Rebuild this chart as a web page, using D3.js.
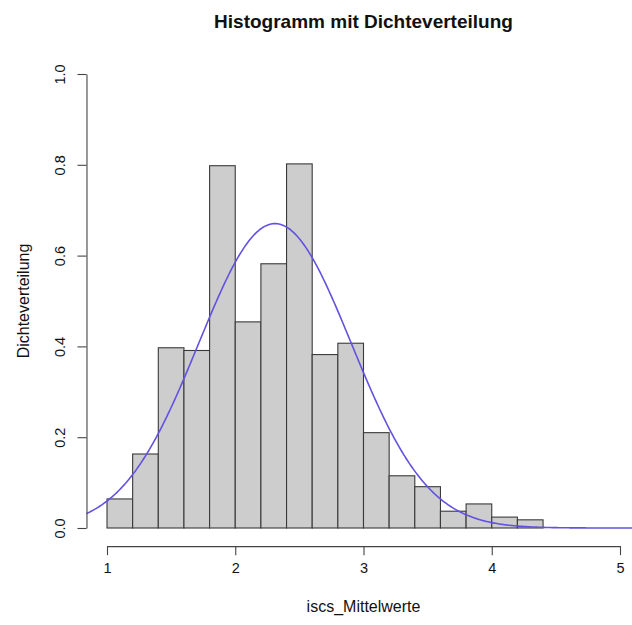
<!DOCTYPE html>
<html>
<head>
<meta charset="utf-8">
<script src="https://cdn.jsdelivr.net/npm/d3@7"></script>
<style>
  html, body { margin: 0; padding: 0; background: #fff; }
  svg { display: block; font-family: "Liberation Sans", Arial, Helvetica, sans-serif; }
</style>
</head>
<body>
<svg id="chart" width="632" height="625"></svg>
<script>
// Histogram bins (lower edges, width 0.2) and their densities
const binStarts = [1.0, 1.2, 1.4, 1.6, 1.8, 2.0, 2.2, 2.4, 2.6, 2.8, 3.0, 3.2, 3.4, 3.6, 3.8, 4.0, 4.2];
const binWidth = 0.2;
const densities = [0.064, 0.163, 0.397, 0.391, 0.798, 0.454, 0.582, 0.802, 0.382, 0.407, 0.210, 0.115, 0.091, 0.037, 0.053, 0.024, 0.018];

// Fitted normal density parameters
const fitMean = 2.31;
const fitSd = 0.595;

const xTicks = [1, 2, 3, 4, 5];
const yTicks = [0.0, 0.2, 0.4, 0.6, 0.8, 1.0];

const titleText = "Histogramm mit Dichteverteilung";
const xTitle = "iscs_Mittelwerte";
const yTitle = "Dichteverteilung";

const svg = d3.select("#chart");
const W = 632, H = 625;

// Plot region (data range padded by 4% like base graphics)
const x = d3.scaleLinear().domain([1, 5]).range([107, 620]);
const y = d3.scaleLinear().domain([0, 1]).range([528, 74]);
const plotL = x(0.84), plotR = x(5.16), plotB = y(-0.04), plotT = y(1.04);
const midX = (plotL + plotR) / 2, midY = (plotT + plotB) / 2;

svg.append("defs").append("clipPath").attr("id", "plotclip")
  .append("rect").attr("x", plotL).attr("y", 0).attr("width", W - plotL).attr("height", plotB);

// Bars
svg.append("g").selectAll("rect")
  .data(binStarts.map((s, i) => ({ s, d: densities[i] })))
  .join("rect")
  .attr("x", d => x(d.s))
  .attr("y", d => y(d.d))
  .attr("width", d => x(d.s + binWidth) - x(d.s))
  .attr("height", d => y(0) - y(d.d))
  .attr("fill", "#cdcdcd")
  .attr("stroke", "#3a3a3a")
  .attr("stroke-width", 1.1);

// Normal density curve
const pdf = v => Math.exp(-0.5 * ((v - fitMean) / fitSd) ** 2) / (fitSd * Math.sqrt(2 * Math.PI));
const curvePts = d3.range(0.8, 5.3, 0.01).map(v => [v, pdf(v)]);
svg.append("path")
  .datum(curvePts)
  .attr("clip-path", "url(#plotclip)")
  .attr("fill", "none")
  .attr("stroke", "#6252e0")
  .attr("stroke-width", 1.6)
  .attr("d", d3.line().x(d => x(d[0])).y(d => y(d[1])));

// X axis
const xAxis = svg.append("g")
  .attr("transform", `translate(0,${plotB})`)
  .call(d3.axisBottom(x).tickValues(xTicks).tickFormat(d3.format("d")).tickSize(9).tickSizeOuter(0));
xAxis.select(".domain").attr("stroke", "#444").attr("stroke-width", 1.1);
xAxis.selectAll(".tick line").attr("stroke", "#444").attr("stroke-width", 1.1);
xAxis.selectAll(".tick text")
  .attr("font-size", 14.5).attr("fill", "#111")
  .attr("font-family", "Liberation Sans, Arial, sans-serif")
  .attr("y", 17);

// Y axis with rotated labels
const yAxis = svg.append("g")
  .attr("transform", `translate(${plotL},0)`)
  .call(d3.axisLeft(y).tickValues(yTicks).tickFormat(d3.format(".1f")).tickSize(9).tickSizeOuter(0));
yAxis.select(".domain").attr("stroke", "#444").attr("stroke-width", 1.1);
yAxis.selectAll(".tick line").attr("stroke", "#444").attr("stroke-width", 1.1);
yAxis.selectAll(".tick text")
  .attr("font-size", 14.5).attr("fill", "#111")
  .attr("font-family", "Liberation Sans, Arial, sans-serif")
  .attr("x", null).attr("dy", null)
  .attr("text-anchor", "middle")
  .attr("transform", "translate(-25,0) rotate(-90)")
  .attr("dominant-baseline", "middle");

// Titles
svg.append("text")
  .attr("x", midX).attr("y", 28)
  .attr("text-anchor", "middle")
  .attr("font-size", 19).attr("font-weight", "bold").attr("fill", "#111")
  .text(titleText);

svg.append("text")
  .attr("x", midX).attr("y", 612)
  .attr("text-anchor", "middle")
  .attr("font-size", 16).attr("fill", "#111")
  .text(xTitle);

svg.append("text")
  .attr("transform", `translate(29,${midY}) rotate(-90)`)
  .attr("text-anchor", "middle")
  .attr("font-size", 16).attr("fill", "#111")
  .text(yTitle);
</script>
</body>
</html>
